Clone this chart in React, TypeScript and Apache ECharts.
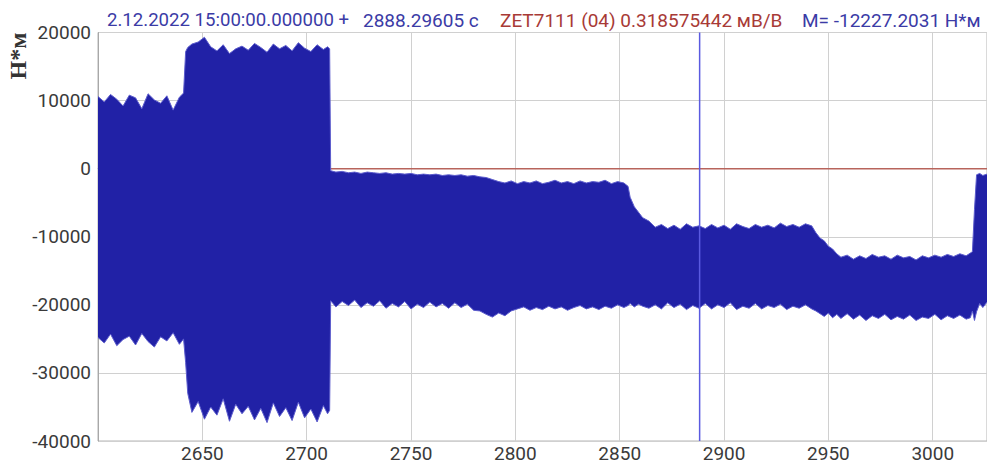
import React, { useEffect, useRef } from "react";
import * as echarts from "echarts";

// sample times (s)
const times = [
  // level 1
  2600, 2603, 2606, 2609, 2612, 2615, 2618, 2621, 2624, 2627, 2630, 2633, 2636, 2639, 2641,
  2642, 2643, 2645,
  // level 2
  2648, 2651, 2654, 2657, 2660, 2663, 2666, 2669, 2672, 2675, 2678, 2681, 2684, 2687, 2690, 2693, 2696, 2699, 2702, 2705, 2708, 2710, 2711,
  // level 3
  2711.5, 2714, 2717, 2720, 2723, 2726, 2729, 2732, 2735, 2738, 2741, 2744, 2747, 2750, 2753, 2756, 2759, 2762, 2765, 2768, 2771, 2774, 2777, 2780,
  2783, 2786, 2789, 2792, 2795, 2798, 2801, 2804, 2807, 2810, 2813, 2816, 2819, 2822, 2825, 2828, 2831, 2834, 2837, 2840, 2843, 2846, 2849, 2852,
  2854, 2855, 2857, 2859, 2861, 2864, 2867,
  // level 4
  2870, 2873, 2876, 2879, 2882, 2885, 2888, 2891, 2894, 2897, 2900, 2903, 2906, 2909, 2912, 2915, 2918, 2921, 2924, 2927, 2930, 2933, 2936, 2939, 2942,
  2944, 2946, 2948, 2950, 2952, 2954, 2956,
  // level 5
  2959, 2962, 2965, 2968, 2971, 2974, 2977, 2980, 2983, 2986, 2989, 2992, 2995, 2998, 3001, 3004, 3007, 3010, 3013, 3016, 3018, 3019,
  3020, 3021, 3022.5, 3024, 3026,
];

// upper envelope of the signal (Н*м)
const upper = [
  10600, 9800, 10900, 10200, 9200, 10800, 10400, 8800, 11000, 10100, 9600, 10700, 8600, 10500, 11100,
  17200, 17800, 18300,
  18600, 19300, 17900, 17300, 18200, 16900, 17600, 18000, 17400, 18400, 17800, 17100, 18300, 17600, 18100, 17300, 18500, 17700, 17200, 18200, 17500, 17900, 17600,
  -300, -500, -400, -600, -500, -700, -500, -600, -700, -600, -800, -700, -800, -700, -900, -800, -900, -800, -1000, -900, -1000, -900, -1100, -1000,
  -1200, -1300, -1600, -1900, -2100, -1800, -2200, -1900, -2100, -1800, -2200, -2000, -1700, -2100, -1900, -2200, -1800, -2100, -1900, -2000, -1700, -2200, -1900, -2100,
  -2600, -4200, -5600, -6400, -7200, -7700, -8600,
  -8200, -8800, -8300, -8900, -8100, -8600, -8400, -8800, -8200, -8700, -8300, -8900, -8100, -8500, -8800, -8200, -8600, -8300, -8700, -8000, -8500, -8200, -8600, -8100, -8400,
  -9400, -10200, -10600, -11400, -11800, -12500, -13000,
  -12700, -13300, -12800, -13200, -12600, -13000, -12800, -13300, -12700, -13100, -12900, -13400, -12800, -13100, -12700, -13000, -12600, -12900, -12500, -12800, -12400, -12200,
  -6000, -900, -700, -1000, -800,
];

// lower envelope of the signal (Н*м)
const lower = [
  -24800, -25600, -24300, -26000, -25100, -24600, -25900, -24200, -25400, -26200, -24700, -25300, -24100, -25800, -25000,
  -28500, -33000, -35800,
  -34200, -36800, -35000, -36200, -33800, -37100, -34600, -36000, -34900, -36900, -35200, -37300, -34400, -36400, -35100, -37000, -34300, -36600, -35300, -37200, -34800, -36000, -35500,
  -19400, -20300, -19500, -20100, -19300, -20400, -19700, -20200, -19400, -20500, -19800, -20300, -19500, -20600, -19900, -20400, -19600, -20300, -19800, -20500, -19700, -20400, -19900, -20800,
  -20900, -21400, -21800, -21200, -21600, -20900, -20600, -20300, -20800, -20400, -20700, -20200, -20600, -20300, -20800, -20400, -20100, -20600, -20300, -20700, -20200, -20500, -20000, -20400,
  -20100, -19800, -20300, -19900, -20200, -20500, -20000,
  -20600, -19700, -20400, -19900, -20700, -20100, -20500, -19800, -20600, -20000, -20400, -19700, -20700, -20200, -20500, -19800, -20600, -20100, -20400, -19900, -20700, -20200, -20500, -20000, -20600,
  -20900, -21300, -21700, -21200, -21900, -21400, -22000,
  -21300, -22100, -21500, -22300, -21600, -22000, -21400, -22200, -21700, -22100, -21500, -22300, -21800, -22000, -21400, -22200, -21600, -22000, -21500, -22100, -21900, -20900,
  -22300, -21000, -19800, -20400, -19600,
];

const cursorTime = 2888.29605;
const zeroLevel = 0;

const headerStart = "2.12.2022 15:00:00.000000 +";
const headerOffset = "2888.29605 с";
const headerChannel = "ZET7111 (04) 0.318575442 мВ/В";
const headerValue = "M= -12227.2031 Н*м";
const yName = "Н*м";

export default function App() {
  const ref = useRef<HTMLDivElement>(null);

  useEffect(() => {
    if (!ref.current) return;
    const chart = echarts.init(ref.current, undefined, { renderer: "svg" });
    const fill = "#2121a6";
    const edge = "#5c5ccc";
    const font = "Roboto, 'Liberation Sans', sans-serif";

    const upperData = times.map((t, i) => [t, upper[i]]);
    const lowerData = times.map((t, i) => [t, lower[i]]);

    const headerText = (text: string, x: number, color: string, size = 19) => ({
      type: "text",
      x,
      y: 20,
      style: {
        text,
        fill: color,
        font: `${size}px ${font}`,
        align: "left",
        verticalAlign: "middle",
      },
    });

    chart.setOption({
      animation: false,
      backgroundColor: "#ffffff",
      grid: {
        left: 98,
        right: 0,
        top: 32.5,
        bottom: 29,
        show: true,
        borderColor: "#b4b4b4",
        borderWidth: 1,
      },
      xAxis: {
        type: "value",
        min: 2600,
        max: 3026,
        interval: 50,
        axisLine: { show: true, lineStyle: { color: "#a8a8a8", width: 1 } },
        axisTick: { show: false },
        axisLabel: {
          showMinLabel: false,
          showMaxLabel: false,
          color: "#3a3a3a",
          fontSize: 19,
          fontFamily: font,
          margin: 3,
          formatter: (v: number) => String(v),
        },
        splitLine: { show: true, lineStyle: { color: "#d0d0d0", width: 1 } },
      },
      yAxis: {
        type: "value",
        min: -40000,
        max: 20000,
        interval: 10000,
        axisLine: { show: true, lineStyle: { color: "#a8a8a8", width: 1 } },
        axisTick: { show: false },
        axisLabel: {
          color: "#3a3a3a",
          fontSize: 19,
          fontFamily: font,
          margin: 7,
          formatter: (v: number) => String(v),
        },
        splitLine: { show: true, lineStyle: { color: "#d0d0d0", width: 1 } },
      },
      series: [
        {
          type: "line",
          name: "zero",
          data: [
            [2600, zeroLevel],
            [3026, zeroLevel],
          ],
          symbol: "none",
          silent: true,
          z: 1,
          lineStyle: { color: "#b8645c", width: 1.5 },
        },
        {
          type: "custom",
          name: "band",
          silent: true,
          z: 2,
          data: [[times[0], upper[0]]],
          encode: { x: 0, y: 1 },
          renderItem: (params: any, api: any) => {
            if (params.dataIndex !== 0) return null;
            const pts: number[][] = [];
            for (let i = 0; i < times.length; i++) pts.push(api.coord([times[i], upper[i]]));
            for (let i = times.length - 1; i >= 0; i--) pts.push(api.coord([times[i], lower[i]]));
            return {
              type: "polygon",
              shape: { points: pts },
              style: { fill: fill, stroke: "none" },
            };
          },
        },
        {
          type: "line",
          name: "upper",
          data: upperData,
          symbol: "none",
          silent: true,
          z: 3,
          lineStyle: { color: edge, width: 1 },
        },
        {
          type: "line",
          name: "lower",
          data: lowerData,
          symbol: "none",
          silent: true,
          z: 3,
          lineStyle: { color: edge, width: 1 },
        },
        {
          type: "line",
          name: "cursor",
          data: [
            [cursorTime, -40000],
            [cursorTime, 20000],
          ],
          symbol: "none",
          silent: true,
          z: 5,
          lineStyle: { color: "#5a5ae0", width: 1.5 },
        },
      ],
      graphic: [
        headerText(headerStart, 107, "#3b3ba6", 18.6),
        headerText(headerOffset, 363, "#3b3ba6"),
        headerText(headerChannel, 500, "#a83a36"),
        headerText(headerValue, 802, "#3b3ba6"),
        {
          type: "text",
          x: 17.5,
          y: 56,
          rotation: Math.PI / 2,
          style: {
            text: yName,
            fill: "#333333",
            font: "bold 24px 'Liberation Serif', serif",
            align: "center",
            verticalAlign: "middle",
          },
        },
      ],
    });

    return () => {
      chart.dispose();
    };
  }, []);

  return (
    <div
      ref={ref}
      style={{ position: "absolute", left: 0, top: 0, width: 987, height: 470 }}
    />
  );
}
